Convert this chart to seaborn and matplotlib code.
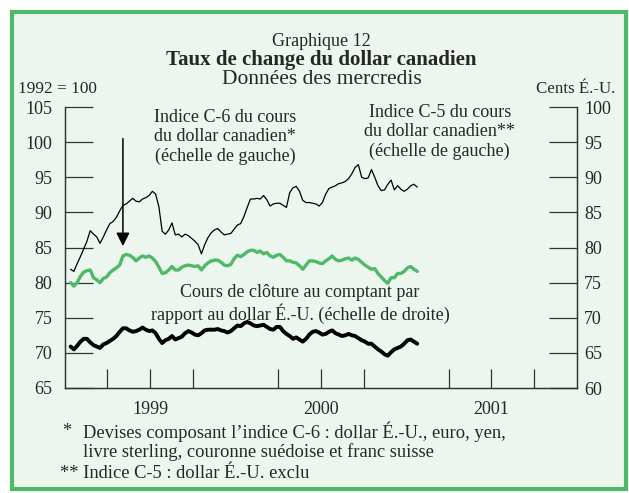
import pandas as pd
import seaborn as sns
import matplotlib.pyplot as plt
import matplotlib.dates as mdates
from matplotlib.patches import Rectangle
from matplotlib.transforms import blended_transform_factory

# Wednesday observations, 13 Jan 1999 to 24 Jan 2001
c6_index = [81.9, 81.6, 82.7, 83.7, 84.8, 85.9, 87.4, 86.9, 86.5, 85.6,
            86.5, 87.5, 88.4, 88.7, 89.3, 90.2, 91.0, 91.2, 91.6, 92.0,
            91.6, 91.5, 91.9, 92.1, 92.4, 93.0, 92.6, 90.8, 87.3, 86.9,
            87.5, 88.5, 86.8, 86.9, 86.5, 86.9, 86.7, 86.3, 85.9, 85.4,
            84.1, 85.4, 86.4, 87.1, 87.5, 87.7, 87.2, 86.8, 86.9, 87.0,
            87.6, 88.2, 88.4, 89.4, 90.7, 91.9, 91.9, 92.0, 91.9, 92.4,
            91.8, 90.9, 91.2, 91.3, 91.3, 91.0, 90.7, 92.8, 93.5, 93.7,
            93.0, 91.7, 91.4, 91.4, 91.3, 91.2, 90.9, 91.4, 92.6, 93.4,
            93.6, 93.8, 94.1, 94.2, 94.4, 94.8, 95.5, 96.4, 96.8, 95.0,
            94.8, 94.9, 96.1, 95.0, 93.8, 93.1, 93.2, 94.0, 94.6, 93.2,
            93.8, 93.3, 93.0, 93.3, 93.8, 94.0, 93.6]

c5_index = [80.0, 79.5, 80.0, 80.9, 81.5, 81.7, 81.8, 80.7, 80.4, 80.0,
            80.6, 80.8, 81.4, 81.8, 82.1, 82.5, 83.8, 84.0, 83.9, 83.6,
            83.1, 83.5, 83.8, 83.6, 83.8, 83.5, 83.0, 82.2, 81.3, 81.4,
            81.8, 82.3, 81.8, 81.8, 82.2, 82.4, 82.5, 82.4, 82.3, 82.4,
            81.8, 82.4, 82.8, 83.1, 83.2, 83.2, 82.9, 82.5, 82.4, 82.6,
            83.4, 83.9, 83.7, 84.0, 84.4, 84.6, 84.6, 84.3, 84.5, 84.1,
            84.3, 83.8, 83.6, 83.9, 84.0, 83.6, 83.1, 83.1, 82.9, 82.8,
            82.4, 81.9, 82.5, 83.1, 83.1, 83.0, 82.8, 82.7, 83.1, 83.4,
            83.8, 83.3, 83.1, 83.2, 83.4, 83.5, 83.2, 83.5, 83.3, 82.9,
            82.5, 82.2, 81.9, 82.0, 81.3, 80.8, 80.3, 79.9, 80.7, 80.7,
            81.3, 81.3, 81.6, 82.1, 82.3, 81.9, 81.6]

spot_cents = [65.9, 65.5, 66.0, 66.6, 67.0, 67.0, 66.5, 66.1, 65.9, 65.7,
              66.2, 66.4, 66.7, 67.0, 67.4, 68.0, 68.5, 68.5, 68.2, 68.0,
              68.1, 68.3, 68.6, 68.3, 68.1, 68.2, 67.8, 67.0, 66.4, 66.8,
              67.0, 67.4, 66.9, 67.1, 67.3, 67.8, 68.1, 67.9, 67.6, 67.5,
              67.8, 68.2, 68.3, 68.3, 68.3, 68.4, 68.2, 68.1, 67.9, 68.1,
              68.5, 68.9, 68.8, 69.2, 69.4, 69.2, 68.9, 68.8, 68.9, 69.0,
              68.7, 68.4, 68.3, 68.7, 68.7, 68.1, 67.7, 67.4, 67.0, 67.2,
              66.9, 66.6, 67.0, 67.6, 68.0, 68.1, 67.9, 67.6, 67.7, 68.0,
              68.2, 67.8, 67.6, 67.4, 67.5, 67.7, 67.5, 67.4, 67.1, 66.8,
              66.6, 66.3, 66.3, 65.9, 65.5, 65.2, 64.8, 64.6, 65.1, 65.5,
              65.7, 65.9, 66.3, 66.8, 66.9, 66.6, 66.3]

years = ["1999", "2000", "2001"]
left_ticks = list(range(65, 106, 5))
right_ticks = list(range(60, 101, 5))

BG = "#ecf6ee"
GREEN = "#4fb968"
INK = "#333333"

sns.set_theme(style="white")
plt.rcParams["font.family"] = ["Liberation Serif", "DejaVu Serif"]

df = pd.DataFrame({
    "date": pd.date_range("1999-01-13", periods=len(c6_index), freq="7D"),
    "c6": c6_index,
    "c5": c5_index,
    "spot": spot_cents,
})

fig = plt.figure(figsize=(6.29, 4.93), dpi=100, facecolor="white")
fig.patches.append(Rectangle((12 / 629, 1 - 489 / 493), 614 / 629, 477 / 493,
                             transform=fig.transFigure, facecolor=BG,
                             edgecolor=GREEN, linewidth=3, zorder=-10))

ax = fig.add_axes([65 / 629, 1 - 388 / 493, 512 / 629, 281 / 493])
ax.set_facecolor("none")
ax2 = ax.twinx()
ax2.set_facecolor("none")

sns.lineplot(data=df, x="date", y="c6", ax=ax, color="black", linewidth=0.9)
sns.lineplot(data=df, x="date", y="c5", ax=ax, color=GREEN, linewidth=2.4)
sns.lineplot(data=df, x="date", y="spot", ax=ax2, color="black", linewidth=2.8)

ax.set_xlim(pd.Timestamp("1999-01-01"), pd.Timestamp("2002-01-01"))
ax.set_ylim(65, 105)
ax2.set_ylim(60, 100)
ax.set_yticks(left_ticks)
ax2.set_yticks(right_ticks)
ax.set_xlabel("")
ax.set_ylabel("")
ax2.set_ylabel("")

ax.xaxis.set_major_locator(mdates.YearLocator())
ax.xaxis.set_minor_locator(mdates.MonthLocator(bymonth=[4, 7, 10]))
ax.tick_params(axis="x", which="major", direction="in", length=26.5, width=0.9,
               color=INK, labelbottom=False)
ax.tick_params(axis="x", which="minor", direction="in", length=13.5, width=0.9,
               color=INK, bottom=True)
ax.tick_params(axis="y", direction="in", length=20, width=0.9, color=INK,
               pad=9, labelsize=13, left=True)
ax2.tick_params(axis="y", direction="in", length=20, width=0.9, color=INK,
                pad=5, labelsize=13, right=True)

for a in (ax, ax2):
    a.spines["top"].set_visible(False)
    for s in ("left", "right", "bottom"):
        a.spines[s].set_color(INK)
        a.spines[s].set_linewidth(0.9)

trans = blended_transform_factory(ax.transData, ax.transAxes)
for y in years:
    ax.text(mdates.date2num(pd.Timestamp(f"{y}-07-02")), -0.075, y,
            transform=trans, ha="center", va="center", fontsize=13)

# titles
fig.text(0.511, 1 - 41 / 493, "Graphique 12", ha="center", va="center", fontsize=13)
fig.text(0.511, 1 - 60 / 493, "Taux de change du dollar canadien", ha="center",
         va="center", fontsize=15, fontweight="bold")
fig.text(0.511, 1 - 79 / 493, "Données des mercredis", ha="center", va="center",
         fontsize=15.5)
fig.text(18 / 629, 1 - 89 / 493, "1992 = 100", ha="left", va="center", fontsize=12.4)
fig.text(615 / 629, 1 - 89 / 493, "Cents É.-U.", ha="right", va="center", fontsize=12.2)

# series labels
ax.text(0.3125, 0.893, "Indice C-6 du cours\ndu dollar canadien*\n(échelle de gauche)",
        transform=ax.transAxes, ha="center", va="center", fontsize=13, linespacing=1.18)
ax.text(0.732, 0.911, "Indice C-5 du cours\ndu dollar canadien**\n(échelle de gauche)",
        transform=ax.transAxes, ha="center", va="center", fontsize=13, linespacing=1.15)
ax.text(0.459, 0.299, "Cours de clôture au comptant par\nrapport au dollar É.-U. (échelle de droite)",
        transform=ax.transAxes, ha="center", va="center", fontsize=13, linespacing=1.1)

arrow_x = mdates.date2num(pd.Timestamp("1999-05-05"))
ax.annotate("", xy=(arrow_x, 84.8), xytext=(arrow_x, 100.9),
            arrowprops=dict(arrowstyle="-|>", color="black", lw=1.1, mutation_scale=20))

# footnotes
fig.text(62 / 629, 1 - 432 / 493, "*", ha="left", va="center", fontsize=13.3)
fig.text(83 / 629, 1 - 432 / 493, "Devises composant l’indice C-6 : dollar É.-U., euro, yen,",
         ha="left", va="center", fontsize=13.3)
fig.text(83 / 629, 1 - 452 / 493, "livre sterling, couronne suédoise et franc suisse",
         ha="left", va="center", fontsize=13.3)
fig.text(60 / 629, 1 - 473 / 493, "** Indice C-5 : dollar É.-U. exclu",
         ha="left", va="center", fontsize=13.3)

fig.savefig("out.png", dpi=100, facecolor=fig.get_facecolor())
